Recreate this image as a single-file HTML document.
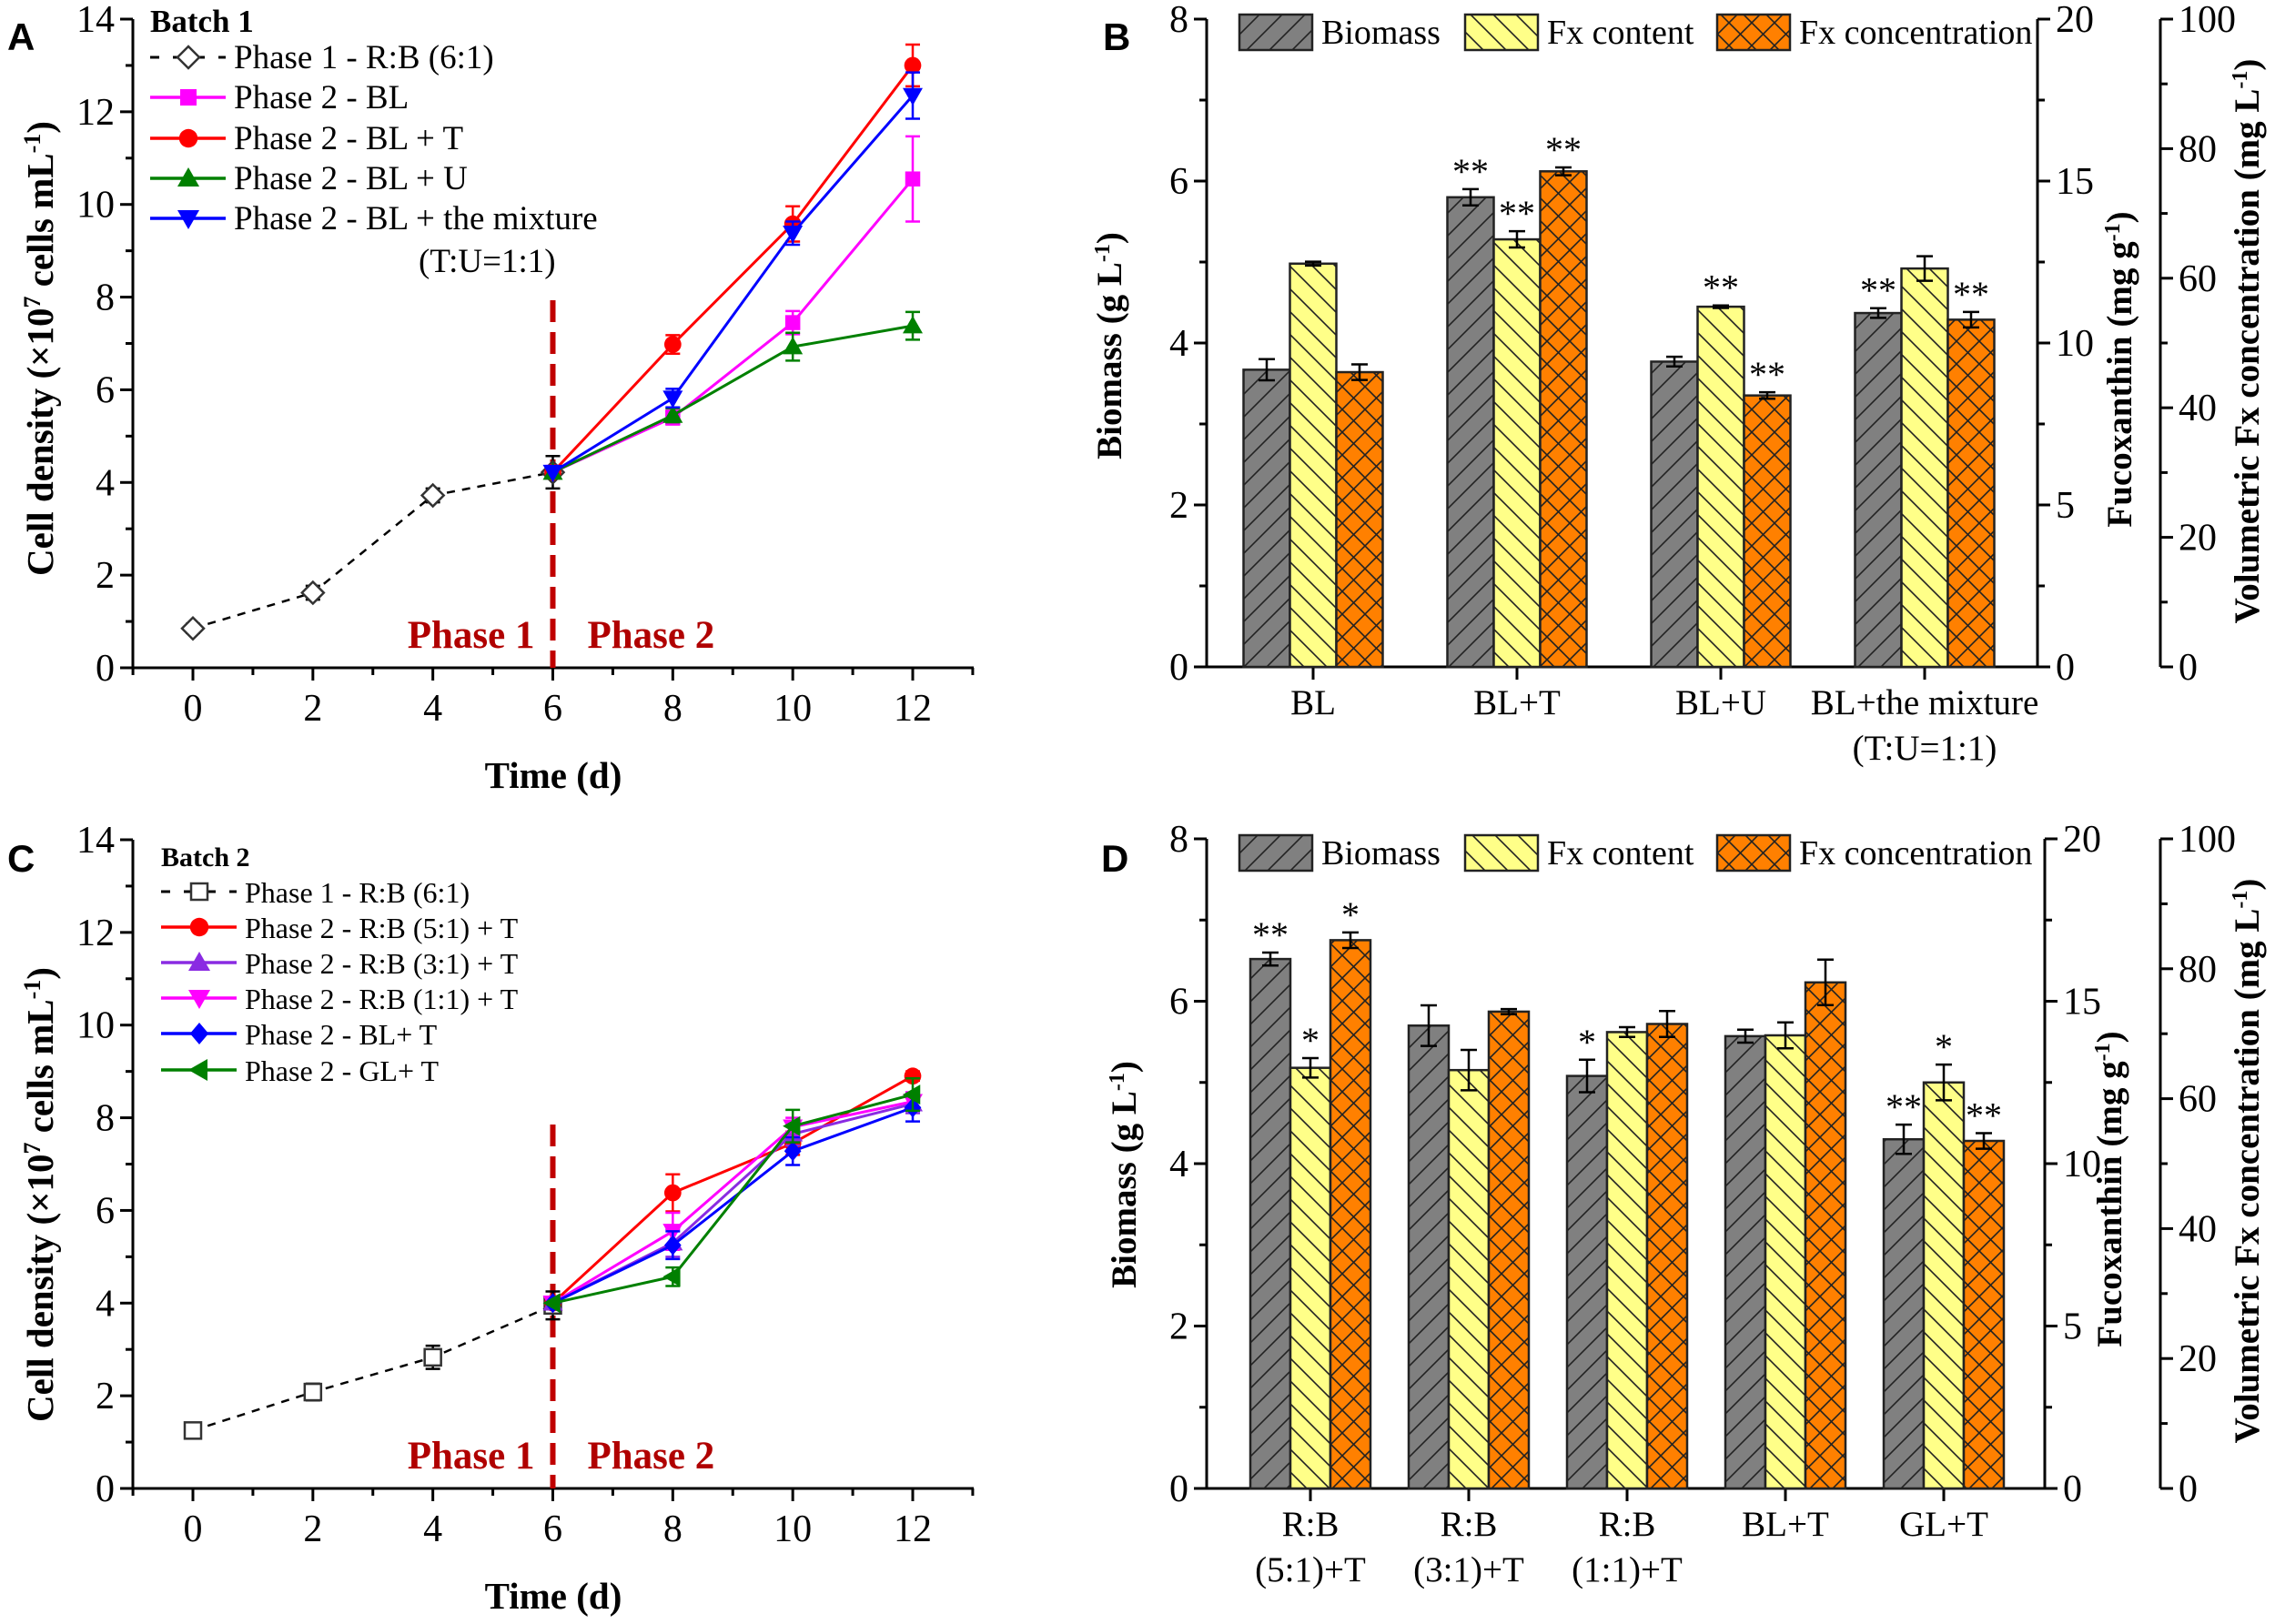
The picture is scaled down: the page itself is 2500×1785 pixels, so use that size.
<!DOCTYPE html>
<html><head><meta charset="utf-8">
<style>
html,body{margin:0;padding:0;background:#fff;}
svg{display:block;}
svg text{font-family:"Liberation Serif","Times New Roman",serif;}
svg text.lt{font-family:"Liberation Sans",Arial,sans-serif;font-weight:bold;font-size:42px;}
</style></head>
<body>
<svg id="fig" width="2500" height="1785" viewBox="0 0 2500 1785" xmlns="http://www.w3.org/2000/svg" font-family="Liberation Serif, serif">
<defs>
<pattern id="hatchGray" patternUnits="userSpaceOnUse" width="25" height="25"><rect width="25" height="25" fill="#808080"/><path d="M-5,30 L30,-5 M-5,5 L5,-5 M20,30 L30,20" stroke="#222" stroke-width="1.6"/></pattern>
<pattern id="hatchYellow" patternUnits="userSpaceOnUse" width="25" height="25"><rect width="25" height="25" fill="#ffff88"/><path d="M-5,-5 L30,30 M-5,20 L5,30 M20,-5 L30,5" stroke="#222" stroke-width="1.6"/></pattern>
<pattern id="hatchOrange" patternUnits="userSpaceOnUse" width="25" height="25"><rect width="25" height="25" fill="#ff8000"/><path d="M-5,-5 L30,30 M-5,20 L5,30 M20,-5 L30,5 M-5,30 L30,-5 M-5,5 L5,-5 M20,30 L30,20" stroke="#222" stroke-width="1.6"/></pattern>
</defs>
<text class="lt" x="8" y="55">A</text>
<text class="lt" x="1212" y="55">B</text>
<text class="lt" x="8" y="958">C</text>
<text class="lt" x="1210" y="958">D</text>
<g id="gA"></g>
<g id="gB"></g>
<g id="gC"></g>
<g id="gD"></g>
</svg>
<script>
// ---------- Panel A data ----------
const daysA = [0, 2, 4, 6, 8, 10, 12];
const phase1DaysA = [0, 2, 4, 6];
const phase1ValsA = [0.85, 1.62, 3.72, 4.22];
const phase1ErrA = [0.1, 0.15, 0.15, 0.35];
const phase2DaysA = [6, 8, 10, 12];
const blValsA = [4.22, 5.40, 7.45, 10.55];
const blErrA = [0, 0.15, 0.25, 0.92];
const bltValsA = [4.22, 6.98, 9.58, 13.0];
const bltErrA = [0, 0.2, 0.38, 0.45];
const bluValsA = [4.22, 5.45, 6.93, 7.38];
const bluErrA = [0, 0.15, 0.3, 0.3];
const mixValsA = [4.22, 5.82, 9.38, 12.35];
const mixErrA = [0, 0.2, 0.25, 0.5];
const yTicksLine = [0, 2, 4, 6, 8, 10, 12, 14];
const xTicksLine = [0, 2, 4, 6, 8, 10, 12];

// ---------- Panel C data ----------
const phase1DaysC = [0, 2, 4, 6];
const phase1ValsC = [1.25, 2.08, 2.83, 3.95];
const phase1ErrC = [0.1, 0.18, 0.25, 0.3];
const phase2DaysC = [6, 8, 10, 12];
const rb51ValsC = [4.0, 6.38, 7.45, 8.9];
const rb51ErrC = [0, 0.4, 0.25, 0.1];
const rb31ValsC = [4.0, 5.3, 7.65, 8.3];
const rb31ErrC = [0, 0.3, 0.25, 0.2];
const rb11ValsC = [4.0, 5.55, 7.8, 8.35];
const rb11ErrC = [0, 0.4, 0.2, 0.2];
const bltValsC = [4.0, 5.25, 7.28, 8.22];
const bltErrC = [0, 0.3, 0.3, 0.3];
const gltValsC = [4.0, 4.57, 7.82, 8.5];
const gltErrC = [0, 0.2, 0.35, 0.35];

// ---------- Panel B data ----------
const catsB = ["BL", "BL+T", "BL+U", "BL+the mixture|(T:U=1:1)"];
const biomassB = [3.67, 5.80, 3.77, 4.37];
const biomassErrB = [0.13, 0.1, 0.06, 0.06];
const fxContentB = [12.45, 13.2, 11.12, 12.3];
const fxContentErrB = [0.06, 0.25, 0.04, 0.38];
const fxConcB = [45.5, 76.5, 41.9, 53.6];
const fxConcErrB = [1.2, 0.6, 0.5, 1.2];
const biomassSigB = ["", "**", "", "**"];
const fxContentSigB = ["", "**", "**", ""];
const fxConcSigB = ["", "**", "**", "**"];

// ---------- Panel D data ----------
const catsD = ["R:B|(5:1)+T", "R:B|(3:1)+T", "R:B|(1:1)+T", "BL+T", "GL+T"];
const biomassD = [6.52, 5.70, 5.08, 5.57, 4.30];
const biomassErrD = [0.08, 0.25, 0.2, 0.08, 0.18];
const fxContentD = [12.95, 12.88, 14.05, 13.95, 12.5];
const fxContentErrD = [0.3, 0.62, 0.15, 0.4, 0.55];
const fxConcD = [84.4, 73.4, 71.5, 77.9, 53.5];
const fxConcErrD = [1.2, 0.4, 2.0, 3.5, 1.2];
const biomassSigD = ["**", "", "*", "", "**"];
const fxContentSigD = ["*", "", "", "", "*"];
const fxConcSigD = ["*", "", "", "", "**"];

const yTicksBio = [0, 2, 4, 6, 8];
const yTicksFx = [0, 5, 10, 15, 20];
const yTicksConc = [0, 20, 40, 60, 80, 100];

const NS = "http://www.w3.org/2000/svg";
function mk(parent, tag, attrs, text) {
  const e = document.createElementNS(NS, tag);
  if (tag === "text") e.setAttribute("font-family", "Liberation Serif, Times New Roman, serif");
  for (const k in attrs) e.setAttribute(k, attrs[k]);
  if (text !== undefined) e.textContent = text;
  parent.appendChild(e);
  return e;
}

function marker(g, type, cx, cy, color, s) {
  let el;
  if (type === "odiamond") el = mk(g, "path", {d:`M${cx},${cy-s} L${cx+s},${cy} L${cx},${cy+s} L${cx-s},${cy} Z`, fill:"#fff", stroke:"#333", "stroke-width":2.5});
  else if (type === "osquare") el = mk(g, "rect", {x:cx-s*0.75, y:cy-s*0.75, width:s*1.5, height:s*1.5, fill:"#fff", stroke:"#333", "stroke-width":2.5});
  else if (type === "square") el = mk(g, "rect", {x:cx-s*0.75, y:cy-s*0.75, width:s*1.5, height:s*1.5, fill:color});
  else if (type === "circle") el = mk(g, "circle", {cx:cx, cy:cy, r:s*0.85, fill:color});
  else if (type === "tri") el = mk(g, "path", {d:`M${cx},${cy-s} L${cx+s},${cy+s*0.75} L${cx-s},${cy+s*0.75} Z`, fill:color});
  else if (type === "itri") el = mk(g, "path", {d:`M${cx},${cy+s} L${cx+s},${cy-s*0.75} L${cx-s},${cy-s*0.75} Z`, fill:color});
  else if (type === "diamond") el = mk(g, "path", {d:`M${cx},${cy-s} L${cx+s*0.85},${cy} L${cx},${cy+s} L${cx-s*0.85},${cy} Z`, fill:color});
  else if (type === "ltri") el = mk(g, "path", {d:`M${cx-s},${cy} L${cx+s*0.75},${cy-s} L${cx+s*0.75},${cy+s} Z`, fill:color});
  
  
  return el;
}

function lineChart(g, cfg) {
  const x0 = 212, xUnit = (1003 - 212) / 12, axL = 146, axR = 1070;
  const y0 = cfg.y0, yUnit = (cfg.y0 - cfg.y14) / 14;
  const X = d => x0 + d * xUnit, Y = v => y0 - v * yUnit;
  const ax = mk(g, "path", {d:`M${axL},${cfg.y14} L${axL},${y0} L${axR},${y0}`, fill:"none", stroke:"#000", "stroke-width":3});
   
  for (let v = 0; v <= 14; v++) {
    const maj = v % 2 === 0;
    mk(g, "line", {x1:axL, x2:axL-(maj?14:8), y1:Y(v), y2:Y(v), stroke:"#000", "stroke-width":3});
  }
  yTicksLine.forEach(v => {
    const t = mk(g, "text", {x:axL-20, y:Y(v)+14, "text-anchor":"end", "font-size":42}, String(v));
     
  });
  for (let d = -1; d <= 13; d++) {
    const maj = d % 2 === 0;
    mk(g, "line", {x1:X(d), x2:X(d), y1:y0, y2:y0+(maj?14:8), stroke:"#000", "stroke-width":3});
  }
  xTicksLine.forEach(d => {
    const t = mk(g, "text", {x:X(d), y:y0+58, "text-anchor":"middle", "font-size":42}, String(d));
     
  });
  const xt = mk(g, "text", {x:608, y:y0+132, "text-anchor":"middle", "font-size":41, "font-weight":"bold"}, "Time (d)");
   
  const yt = mk(g, "text", {transform:`translate(58,${cfg.ylabelY}) rotate(-90)`, "text-anchor":"middle", "font-size":41, "font-weight":"bold"});
   
  yt.innerHTML = 'Cell density (×10<tspan baseline-shift="super" font-size="26">7</tspan> cells mL<tspan baseline-shift="super" font-size="26">-1</tspan>)';
  const dv = mk(g, "line", {x1:X(6), x2:X(6), y1:cfg.divTop, y2:y0, stroke:"#c00000", "stroke-width":6, "stroke-dasharray":"24,11"});
   
  const p1 = mk(g, "text", {x:X(6)-20, y:y0-22, "text-anchor":"end", "font-size":43, "font-weight":"bold", fill:"#b00000"}, "Phase 1");
   
  const p2 = mk(g, "text", {x:X(6)+38, y:y0-22, "font-size":43, "font-weight":"bold", fill:"#b00000"}, "Phase 2");
   
  cfg.series.forEach(s => {
    const sg = mk(g, "g", {});
     
    const pts = s.days.map((d, i) => `${X(d)},${Y(s.vals[i])}`).join(" ");
    mk(sg, "polyline", {points:pts, fill:"none", stroke:s.color, "stroke-width":s.dash?2.5:3, "stroke-dasharray":s.dash?"9,8":"none"});
    s.days.forEach((d, i) => {
      const e = s.errs[i];
      if (e > 0) {
        const ec = s.dash ? "#000" : s.color;
        mk(sg, "path", {d:`M${X(d)},${Y(s.vals[i]+e)} L${X(d)},${Y(s.vals[i]-e)} M${X(d)-8},${Y(s.vals[i]+e)} L${X(d)+8},${Y(s.vals[i]+e)} M${X(d)-8},${Y(s.vals[i]-e)} L${X(d)+8},${Y(s.vals[i]-e)}`, stroke:ec, "stroke-width":2.5, fill:"none"});
      }
      marker(sg, s.marker, X(d), Y(s.vals[i]), s.color, s.dash ? 12 : 11);
    });
  });
  const lg = mk(g, "g", {});
   
  const bt = mk(lg, "text", {x:cfg.legX, y:cfg.legTitleY, "font-size":cfg.legFont-2, "font-weight":"bold"}, cfg.title);
   
  cfg.series.forEach((s, i) => {
    const ly = cfg.legY[i];
    const eg = mk(lg, "g", {});
     
    mk(eg, "line", {x1:cfg.legX, x2:cfg.legX+83, y1:ly, y2:ly, stroke:s.color, "stroke-width":s.dash?3:3.5, "stroke-dasharray":s.dash?"10,15":"none"});
    marker(eg, s.marker, cfg.legX+42, ly, s.color, 12);
    mk(eg, "text", {x:cfg.legX+92, y:ly+12, "font-size":cfg.legFont}, s.label);
  });
  if (cfg.extra) {
    const ex = mk(lg, "text", {x:cfg.extra.x, y:cfg.extra.y, "font-size":cfg.legFont}, cfg.extra.t);
     
  }
}

lineChart(document.getElementById("gA"), {
  y0:734, y14:21, ylabelY:383, divTop:330, title:"Batch 1", legX:165, legTitleY:35, legFont:37,
  legY:[63, 107, 152, 196, 240], extra:{x:460, y:299, t:"(T:U=1:1)"},
  series:[
    {name:"series-phase1", label:"Phase 1 - R:B (6:1)", days:phase1DaysA, vals:phase1ValsA, errs:phase1ErrA, color:"#000", marker:"odiamond", dash:true},
    {name:"series-bl", label:"Phase 2 - BL", days:phase2DaysA, vals:blValsA, errs:blErrA, color:"#ff00ff", marker:"square"},
    {name:"series-bl-t", label:"Phase 2 - BL + T", days:phase2DaysA, vals:bltValsA, errs:bltErrA, color:"#ff0000", marker:"circle"},
    {name:"series-bl-u", label:"Phase 2 - BL + U", days:phase2DaysA, vals:bluValsA, errs:bluErrA, color:"#008000", marker:"tri"},
    {name:"series-bl-mixture", label:"Phase 2 - BL + the mixture", days:phase2DaysA, vals:mixValsA, errs:mixErrA, color:"#0000ff", marker:"itri"}
  ]
});
lineChart(document.getElementById("gC"), {
  y0:1636, y14:923, ylabelY:1313, divTop:1236, title:"Batch 2", legX:177, legTitleY:952, legFont:32,
  legY:[980, 1019, 1058, 1097, 1136, 1176],
  series:[
    {name:"series-phase1", label:"Phase 1 - R:B (6:1)", days:phase1DaysC, vals:phase1ValsC, errs:phase1ErrC, color:"#000", marker:"osquare", dash:true},
    {name:"series-rb51-t", label:"Phase 2 - R:B (5:1) + T", days:phase2DaysC, vals:rb51ValsC, errs:rb51ErrC, color:"#ff0000", marker:"circle"},
    {name:"series-rb31-t", label:"Phase 2 - R:B (3:1) + T", days:phase2DaysC, vals:rb31ValsC, errs:rb31ErrC, color:"#8a2be2", marker:"tri"},
    {name:"series-rb11-t", label:"Phase 2 - R:B (1:1) + T", days:phase2DaysC, vals:rb11ValsC, errs:rb11ErrC, color:"#ff00ff", marker:"itri"},
    {name:"series-bl-t", label:"Phase 2 - BL+ T", days:phase2DaysC, vals:bltValsC, errs:bltErrC, color:"#0000ff", marker:"diamond"},
    {name:"series-gl-t", label:"Phase 2 - GL+ T", days:phase2DaysC, vals:gltValsC, errs:gltErrC, color:"#008000", marker:"ltri"}
  ]
});

function barChart(g, cfg) {
  const axL = 1326, axR1 = cfg.axR1, axR2 = 2374, y0 = cfg.y0, top = cfg.y8;
  const unit = (y0 - top) / 8;
  const Yb = v => y0 - v * unit;
  const Yf = v => y0 - v / 20 * 8 * unit;
  const Yc = v => y0 - v / 100 * 8 * unit;
  const ax = mk(g, "path", {d:`M${axL},${top} L${axL},${y0} L${axR1},${y0} L${axR1},${top}`, fill:"none", stroke:"#000", "stroke-width":3});
   
  const ax2 = mk(g, "line", {x1:axR2, x2:axR2, y1:top, y2:y0, stroke:"#000", "stroke-width":3});
   
  for (let v = 0; v <= 8; v++) mk(g, "line", {x1:axL, x2:axL-(v%2?8:14), y1:Yb(v), y2:Yb(v), stroke:"#000", "stroke-width":3});
  for (let v = 0; v <= 20; v += 2.5) mk(g, "line", {x1:axR1, x2:axR1+(v%5?8:14), y1:Yf(v), y2:Yf(v), stroke:"#000", "stroke-width":3});
  for (let v = 0; v <= 100; v += 10) mk(g, "line", {x1:axR2, x2:axR2+(v%20?8:14), y1:Yc(v), y2:Yc(v), stroke:"#000", "stroke-width":3});
  yTicksBio.forEach(v => { const t = mk(g, "text", {x:axL-20, y:Yb(v)+14, "text-anchor":"end", "font-size":42}, String(v));   });
  yTicksFx.forEach(v => { const t = mk(g, "text", {x:axR1+20, y:Yf(v)+14, "font-size":42}, String(v));   });
  yTicksConc.forEach(v => { const t = mk(g, "text", {x:axR2+20, y:Yc(v)+14, "font-size":42}, String(v));   });
  const t1 = mk(g, "text", {transform:`translate(${cfg.bioX},${cfg.bioY}) rotate(-90)`, "text-anchor":"middle", "font-size":39, "font-weight":"bold"});
  t1.innerHTML = 'Biomass (g L<tspan baseline-shift="super" font-size="24">-1</tspan>)';
   
  const t2 = mk(g, "text", {transform:`translate(${cfg.fxX},${cfg.fxY}) rotate(-90)`, "text-anchor":"middle", "font-size":39, "font-weight":"bold"});
  t2.innerHTML = 'Fucoxanthin (mg g<tspan baseline-shift="super" font-size="24">-1</tspan>)';
   
  const t3 = mk(g, "text", {transform:`translate(2482,${cfg.cY}) rotate(-90)`, "text-anchor":"middle", "font-size":39, "font-weight":"bold"});
  t3.innerHTML = 'Volumetric Fx concentration (mg L<tspan baseline-shift="super" font-size="24">-1</tspan>)';
   
  const specs = [
    {vals:cfg.bio, errs:cfg.bioErr, sig:cfg.bioSig, Y:Yb, fill:"url(#hatchGray)", name:"bar-biomass"},
    {vals:cfg.fx, errs:cfg.fxErr, sig:cfg.fxSig, Y:Yf, fill:"url(#hatchYellow)", name:"bar-fx-content"},
    {vals:cfg.conc, errs:cfg.concErr, sig:cfg.concSig, Y:Yc, fill:"url(#hatchOrange)", name:"bar-fx-concentration"}
  ];
  cfg.cats.forEach((c, i) => {
    const cx = cfg.c0 + i * cfg.step;
    mk(g, "line", {x1:cx, x2:cx, y1:y0, y2:y0+14, stroke:"#000", "stroke-width":3});
    const lines = c.split("|");
    lines.forEach((ln, k) => {
      const t = mk(g, "text", {x:cx, y:y0+52+k*50, "text-anchor":"middle", "font-size":39}, ln);
       
    });
    specs.forEach((s, j) => {
      const bx = cx - 1.5 * cfg.bw + j * cfg.bw;
      const yt = s.Y(s.vals[i]);
      const r = mk(g, "rect", {x:bx, y:yt, width:cfg.bw, height:y0-yt, fill:s.fill, stroke:"#222", "stroke-width":2.5});
       
      const ym = bx + cfg.bw/2, ya = s.Y(s.vals[i]+s.errs[i]), yb = s.Y(s.vals[i]-s.errs[i]);
      const eb = mk(g, "path", {d:`M${ym},${ya} L${ym},${yb} M${ym-9},${ya} L${ym+9},${ya} M${ym-9},${yb} L${ym+9},${yb}`, stroke:"#000", "stroke-width":2.5, fill:"none"});
       
      if (s.sig[i]) {
        const st = mk(g, "text", {x:ym, y:ya-6, "text-anchor":"middle", "font-size":40}, s.sig[i]);
         
      }
    });
  });
  const lg = mk(g, "g", {});
   
  const items = [["Biomass", "url(#hatchGray)", 1362], ["Fx content", "url(#hatchYellow)", 1610], ["Fx concentration", "url(#hatchOrange)", 1887]];
  items.forEach(it => {
    const eg = mk(lg, "g", {});
     
    mk(eg, "rect", {x:it[2], y:cfg.legY, width:80, height:39, fill:it[1], stroke:"#222", "stroke-width":2.5});
    mk(eg, "text", {x:it[2]+90, y:cfg.legY+32, "font-size":38}, it[0]);
  });
}

barChart(document.getElementById("gB"), {
  y0:733, y8:21, axR1:2239, c0:1443, step:224, bw:51, legY:16,
  bioX:1232, bioY:380, fxX:2342, fxY:406, cY:375,
  cats:catsB, bio:biomassB, bioErr:biomassErrB, bioSig:biomassSigB,
  fx:fxContentB, fxErr:fxContentErrB, fxSig:fxContentSigB,
  conc:fxConcB, concErr:fxConcErrB, concSig:fxConcSigB
});
barChart(document.getElementById("gD"), {
  y0:1636, y8:922, axR1:2247, c0:1440, step:174, bw:44, legY:918,
  bioX:1248, bioY:1291, fxX:2331, fxY:1307, cY:1276,
  cats:catsD, bio:biomassD, bioErr:biomassErrD, bioSig:biomassSigD,
  fx:fxContentD, fxErr:fxContentErrD, fxSig:fxContentSigD,
  conc:fxConcD, concErr:fxConcErrD, concSig:fxConcSigD
});
</script>
</body></html>
